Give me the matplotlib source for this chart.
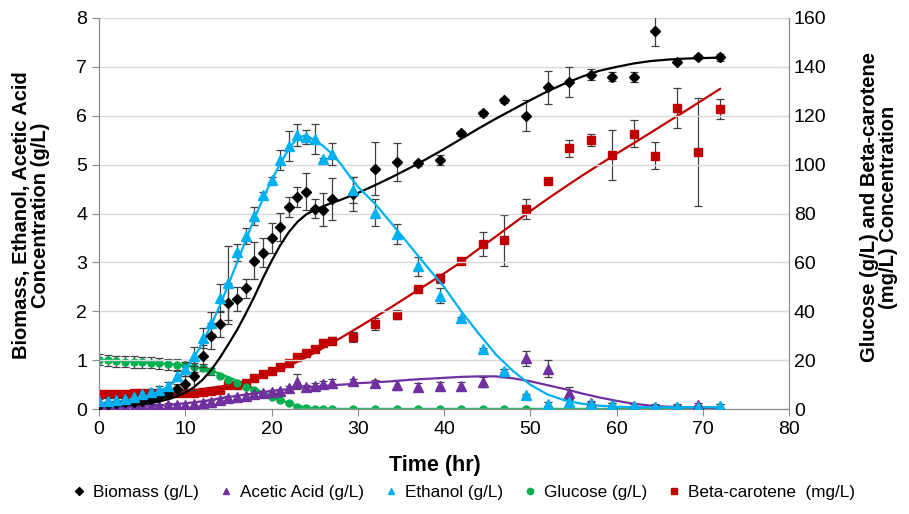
import matplotlib
matplotlib.use("Agg")
import matplotlib.pyplot as plt
from matplotlib.lines import Line2D

plt.rcParams['font.family'] = ['Liberation Sans', 'DejaVu Sans']

# sampling times (hr)
t = list(range(0, 28)) + [29.5, 32, 34.5, 37, 39.5, 42, 44.5, 47, 49.5, 52,
                          54.5, 57, 59.5, 62, 64.5, 67, 69.5, 72]

# measured values (left axis, g/L)
biomass = [0.09, 0.10, 0.12, 0.14, 0.15, 0.16, 0.20, 0.24, 0.30, 0.42, 0.52, 0.67, 1.09, 1.50,
           1.74, 2.17, 2.25, 2.47, 3.04, 3.20, 3.50, 3.72, 4.14, 4.34, 4.45, 4.10, 4.08, 4.29,
           4.40, 4.92, 5.05, 5.03, 5.10, 5.64, 6.05, 6.32, 6.00, 6.58, 6.69, 6.84, 6.80, 6.79,
           7.74, 7.11, 7.20, 7.20]
biomass_err = [0.05, 0.05, 0.05, 0.05, 0.05, 0.05, 0.05, 0.06, 0.07, 0.10, 0.15, 0.27, 0.22, 0.27,
               0.27, 0.42, 0.25, 0.19, 0.37, 0.30, 0.30, 0.29, 0.20, 0.20, 0.37, 0.19, 0.34, 0.43,
               0.34, 0.55, 0.39, 0.05, 0.10, 0.05, 0.05, 0.05, 0.32, 0.34, 0.30, 0.11, 0.09, 0.10,
               0.31, 0.03, 0.04, 0.07]

ethanol = [0.16, 0.17, 0.18, 0.20, 0.24, 0.30, 0.36, 0.40, 0.48, 0.67, 0.82, 1.08, 1.45, 1.76,
           2.27, 2.58, 3.21, 3.54, 3.95, 4.38, 4.69, 5.10, 5.38, 5.61, 5.57, 5.52, 5.11, 5.22,
           4.48, 4.02, 3.58, 2.92, 2.32, 1.86, 1.23, 0.79, 0.29, 0.11, 0.15, 0.11, 0.08, 0.06,
           0.05, 0.05, 0.05, 0.06]
ethanol_err = [0.05, 0.05, 0.05, 0.05, 0.05, 0.06, 0.06, 0.07, 0.08, 0.10, 0.15, 0.20, 0.20, 0.22,
               0.29, 0.75, 0.17, 0.17, 0.19, 0.07, 0.05, 0.21, 0.31, 0.22, 0.14, 0.31, 0.03, 0.22,
               0.26, 0.28, 0.21, 0.20, 0.15, 0.02, 0.02, 0.04, 0.02, 0.04, 0.04, 0.04, 0.04, 0.04,
               0.04, 0.04, 0.04, 0.04]

acetic = [0.05, 0.05, 0.05, 0.05, 0.05, 0.06, 0.06, 0.07, 0.08, 0.08, 0.09, 0.10, 0.13, 0.15,
          0.19, 0.22, 0.24, 0.26, 0.30, 0.33, 0.36, 0.38, 0.43, 0.56, 0.45, 0.48, 0.52, 0.54,
          0.57, 0.53, 0.50, 0.46, 0.48, 0.48, 0.56, 0.76, 1.04, 0.83, 0.33, 0.12, 0.08, 0.06,
          0.05, 0.05, 0.08, 0.05]
acetic_err = [0.04] * 22 + [0.05, 0.15, 0.05, 0.05, 0.05, 0.07,
                            0.05, 0.07, 0.10, 0.08, 0.07, 0.07, 0.10, 0.07, 0.15, 0.18, 0.13, 0.05,
                            0.05, 0.05, 0.05, 0.05, 0.05, 0.05]

# measured values (right axis)
glucose = [20.2, 19.9, 19.6, 19.4, 19.3, 19.2, 19.0, 18.7, 18.4, 18.2, 18.0, 17.4, 17.0, 15.5,
           13.5, 12.0, 10.6, 9.2, 7.8, 6.2, 5.1, 3.6, 2.4, 0.8, 0.4, 0.2, 0.2, 0.2] + [0.2] * 18
glucose_err = [2.3] * 12 + [1.5, 1.5] + [0.4] * 14 + [0.2] * 18

carotene = [6.3, 6.3, 6.3, 6.3, 6.4, 6.4, 6.4, 6.5, 6.5, 6.6, 6.5, 6.8, 7.0, 7.6, 7.8, 9.9, 9.9,
            10.6, 12.7, 14.5, 15.6, 17.2, 18.8, 21.3, 23.1, 24.5, 27.2, 28.0, 29.4, 34.9, 38.6,
            49.2, 53.6, 60.8, 67.5, 69.0, 81.8, 93.3, 106.7, 110.1, 104.0, 112.6, 103.6, 123.1,
            105.1, 122.7]
carotene_err = [0.8] * 15 + [1.0] * 11 + [1.5, 1.5, 2.1, 2.4, 1.9, 1.0, 1.8, 1.0, 5.0, 10.6, 4.0,
                                          0.6, 3.4, 2.4, 10.1, 5.5, 5.5, 8.3, 22.0, 4.2]

# model curves
fit_t = list(range(0, 30)) + list(range(30, 74, 2))
biomass_fit = [0.05, 0.055, 0.06, 0.07, 0.08, 0.10, 0.12, 0.16, 0.20, 0.26, 0.34, 0.45, 0.60, 0.80,
               1.05, 1.33, 1.62, 1.95, 2.30, 2.68, 3.03, 3.35, 3.62, 3.83, 3.98, 4.08, 4.15, 4.22,
               4.28, 4.35, 4.42, 4.58, 4.75, 4.93, 5.12, 5.32, 5.53, 5.74, 5.94, 6.13, 6.32, 6.50,
               6.66, 6.80, 6.92, 7.00, 7.07, 7.12, 7.15, 7.17, 7.18, 7.19]
ethanol_fit = [0.12, 0.13, 0.15, 0.17, 0.20, 0.24, 0.29, 0.36, 0.46, 0.60, 0.80, 1.05, 1.36, 1.72,
               2.12, 2.55, 3.00, 3.45, 3.90, 4.30, 4.68, 5.02, 5.32, 5.55, 5.60, 5.50, 5.38, 5.22,
               5.02, 4.78, 4.55, 4.20, 3.78, 3.35, 2.92, 2.50, 2.00, 1.55, 1.12, 0.78, 0.50, 0.30,
               0.18, 0.11, 0.07, 0.05, 0.04, 0.04, 0.04, 0.04, 0.04, 0.04]
acetic_fit = [0.02, 0.025, 0.03, 0.035, 0.04, 0.05, 0.06, 0.07, 0.08, 0.10, 0.12, 0.14, 0.16, 0.19,
              0.22, 0.25, 0.27, 0.30, 0.32, 0.35, 0.37, 0.39, 0.41, 0.43, 0.45, 0.46, 0.47, 0.49,
              0.50, 0.51, 0.53, 0.55, 0.57, 0.60, 0.62, 0.64, 0.66, 0.67, 0.67, 0.63, 0.57, 0.49,
              0.41, 0.32, 0.24, 0.17, 0.11, 0.07, 0.05, 0.04, 0.03, 0.03]
glucose_fit = [20.2, 20.0, 19.8, 19.6, 19.4, 19.2, 19.0, 18.8, 18.5, 18.2, 17.8, 17.3, 16.6, 15.7,
               14.5, 13.1, 11.6, 10.0, 8.4, 6.8, 5.2, 3.8, 2.5, 1.4, 0.7, 0.35, 0.2, 0.15, 0.1,
               0.1] + [0.1] * 22
carotene_fit = [5.8, 5.9, 6.0, 6.1, 6.2, 6.3, 6.5, 6.7, 6.9, 7.1, 7.4, 7.8, 8.2, 8.7, 9.2, 9.8,
                10.5, 11.3, 12.2, 13.2, 14.6, 16.1, 17.7, 19.4, 21.2, 23.1, 25.1, 27.1, 29.1,
                31.2, 33.3, 37.6, 42.0, 46.5, 51.0, 55.5, 60.2, 65.5, 70.6, 75.8, 81.0, 86.0,
                90.8, 95.5, 100.0, 104.5, 108.8, 113.2, 117.6, 122.0, 126.5, 131.0]

c_bio = '#000000'
c_ace = '#7030A0'
c_eth = '#00B0F0'
c_glu = '#00B050'
c_car = '#C00000'
c_err = '#404040'

fig = plt.figure(figsize=(9.09, 5.14), dpi=100)
ax = fig.add_axes([0.109, 0.204, 0.759, 0.761])
ax2 = ax.twinx()

eb = dict(fmt='none', ecolor=c_err, elinewidth=0.9, capsize=3, capthick=0.9, zorder=2)

# right axis series
ax2.plot(fit_t, carotene_fit, color=c_car, lw=1.6, zorder=3)
ax2.plot(fit_t, glucose_fit, color=c_glu, lw=1.6, zorder=3)
ax2.errorbar(t, carotene, yerr=carotene_err, **eb)
ax2.errorbar(t, glucose, yerr=glucose_err, **eb)
ax2.plot(t, carotene, 's', color=c_car, ms=6, zorder=4)
ax2.plot(t, glucose, 'o', color=c_glu, ms=5, zorder=4)

# left axis series, drawn on top of the right axes
ax.set_zorder(ax2.get_zorder() + 1)
ax.patch.set_visible(False)
ax.plot(fit_t, biomass_fit, color=c_bio, lw=1.6, zorder=3)
ax.plot(fit_t, acetic_fit, color=c_ace, lw=1.6, zorder=3)
ax.plot(fit_t, ethanol_fit, color=c_eth, lw=1.6, zorder=3)
ax.errorbar(t, biomass, yerr=biomass_err, **eb)
ax.errorbar(t, acetic, yerr=acetic_err, **eb)
ax.errorbar(t, ethanol, yerr=ethanol_err, **eb)
ax.plot(t, acetic, '^', color=c_ace, ms=6.5, zorder=4)
ax.plot(t, biomass, 'D', color=c_bio, ms=5, zorder=4)
ax.plot(t, ethanol, '^', color=c_eth, ms=6.5, zorder=4)

ax.set_xlim(0, 80)
ax.set_ylim(0, 8)
ax2.set_ylim(0, 160)
ax.set_xticks(range(0, 90, 10))
ax.set_yticks(range(0, 9))
ax2.set_yticks(range(0, 180, 20))
ax.grid(axis='y', color='#d9d9d9', lw=1, zorder=0)
ax2.grid(False)

for a in (ax, ax2):
    a.spines['top'].set_visible(False)
    for s in ('left', 'right', 'bottom'):
        a.spines[s].set_color('#8c8c8c')
ax.tick_params(axis='both', labelsize=14, color='#8c8c8c', length=5, direction='out')
ax2.tick_params(axis='y', labelsize=14, color='#8c8c8c', length=5, direction='in')

ax.set_xlabel('Time (hr)', fontsize=15.5, fontweight='bold')
ax.xaxis.set_label_coords(0.487, -0.118)
ax.set_ylabel('Biomass, Ethanol, Acetic Acid\nConcentration (g/L)', fontsize=14.5,
              fontweight='bold', linespacing=1.0)
ax.yaxis.set_label_coords(-0.071, 0.496)
ax2.set_ylabel('Glucose (g/L) and Beta-carotene\n(mg/L) Concentration', fontsize=14.5,
               fontweight='bold', linespacing=1.0)
ax2.yaxis.set_label_coords(1.103, 0.516)

handles = [
    Line2D([], [], ls='none', marker='D', color=c_bio, ms=4),
    Line2D([], [], ls='none', marker='^', color=c_ace, ms=5),
    Line2D([], [], ls='none', marker='^', color=c_eth, ms=5),
    Line2D([], [], ls='none', marker='o', color=c_glu, ms=4.5),
    Line2D([], [], ls='none', marker='s', color=c_car, ms=4.5),
]
labels = ['Biomass (g/L)', 'Acetic Acid (g/L)', 'Ethanol (g/L)', 'Glucose (g/L)',
          'Beta-carotene  (mg/L)']
fig.legend(handles, labels, loc='center', bbox_to_anchor=(0.51, 0.041), ncol=5,
           frameon=False, handlelength=0.8, handletextpad=0.4, columnspacing=1.2,
           prop={'size': 12.3})

fig.savefig('out.png', dpi=100)
